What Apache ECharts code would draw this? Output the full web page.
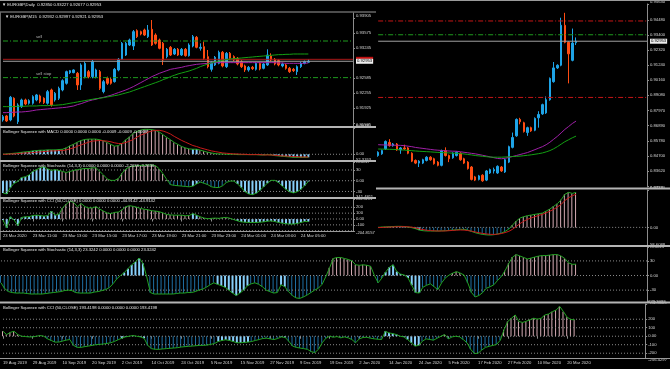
<!DOCTYPE html>
<html><head><meta charset="utf-8">
<script src="https://cdn.jsdelivr.net/npm/echarts@6/dist/echarts.min.js"></script>
<style>html,body{margin:0;padding:0;background:#000;}#c{width:670px;height:369px;}</style>
</head><body><div id="c"></div>
<script>
// ---------------- DATA ----------------
const dailyTickLabels = ['19 Aug 2019','29 Aug 2019','10 Sep 2019','20 Sep 2019','2 Oct 2019','14 Oct 2019','24 Oct 2019','5 Nov 2019','15 Nov 2019','27 Nov 2019','9 Dec 2019','19 Dec 2019','2 Jan 2020','14 Jan 2020','24 Jan 2020','5 Feb 2020','17 Feb 2020','27 Feb 2020','10 Mar 2020','20 Mar 2020'];
const m15TickLabels = ['23 Mar 2020','23 Mar 11:00','23 Mar 13:00','23 Mar 15:00','23 Mar 17:00','23 Mar 19:00','23 Mar 21:00','23 Mar 23:00','24 Mar 01:00','24 Mar 03:00','24 Mar 05:00'];

const dailyPriceLabels = ['0.95630','0.94480','0.93400','0.92320','0.91240','0.90160','0.89080','0.87970','0.86890','0.85780','0.84700','0.83620','0.82540'];
const m15PriceLabels = ['0.93905','0.93575','0.93245','0.92585','0.92255','0.91925','0.91595'];
const dMacdLabels = ['0.0473','0.00','-0.0223'];
const dStochLabels = ['58.6088','30','0.00','-30','-52.3605'];
const dCciLabels = ['379.3492','200','100','0.00','-100','-200','-256.4297'];
const mMacdLabels = ['0.0078','0.00','-0.0017'];
const mStochLabels = ['52.3763','30','0.00','-30','-45.5211'];
const mCciLabels = ['341.4811','200','100','0.00','-100','-204.8157'];

const dailyStart = 101;
const dailyOHLC = [
[0.84733,0.84967,0.84645,0.85038],[0.84854,0.85088,0.84783,0.85159],[0.85208,0.85746,0.85137,0.85817],[0.85675,0.85442,0.85371,0.85911],
[0.85442,0.85561,0.85371,0.85632],[0.85561,0.85137,0.85066,0.85632],[0.85137,0.85279,0.84854,0.85350],[0.85279,0.85208,0.85137,0.85512],
[0.85279,0.84896,0.84825,0.85350],[0.84896,0.84329,0.84259,0.84967],[0.84379,0.84188,0.84117,0.84450],[0.84188,0.84329,0.83905,0.84400],
[0.84188,0.84429,0.84117,0.84500],[0.84379,0.84613,0.84308,0.84684],[0.84613,0.84429,0.84358,0.84684],[0.84500,0.84145,0.84075,0.84571],
[0.84259,0.84025,0.83955,0.84330],[0.84025,0.85088,0.83955,0.85159],[0.85088,0.84733,0.84662,0.85321],[0.84733,0.84500,0.84259,0.84804],
[0.84571,0.84896,0.84500,0.84967],[0.84733,0.84967,0.84662,0.85038],[0.84896,0.84429,0.84358,0.84967],[0.84500,0.84188,0.84117,0.84571],
[0.84259,0.83792,0.83721,0.84330],[0.83905,0.83013,0.82943,0.83976],[0.83197,0.82964,0.82893,0.83268],[0.83013,0.83268,0.82943,0.83339],
[0.83317,0.82914,0.82843,0.83388],[0.82964,0.83622,0.82893,0.83693],[0.83480,0.83721,0.83409,0.83792],[0.83622,0.83721,0.83438,0.83863],
[0.83480,0.83955,0.83409,0.84025],[0.83905,0.83622,0.83551,0.83976],[0.83551,0.84429,0.83480,0.84500],[0.84259,0.85371,0.84188,0.85442],
[0.85321,0.86029,0.85250,0.86382],[0.86149,0.87331,0.86078,0.87402],[0.87331,0.87161,0.86977,0.87444],[0.87090,0.86453,0.86382,0.87161],
[0.86382,0.86736,0.86149,0.86807],[0.86736,0.86503,0.86432,0.86807],[0.86552,0.87402,0.86481,0.87473],[0.87444,0.87685,0.86736,0.87919],
[0.87727,0.88393,0.87656,0.88464],[0.87798,0.88747,0.87727,0.88980],[0.88747,0.90276,0.88676,0.90347],[0.90042,0.91033,0.89971,0.91458],
[0.91033,0.91224,0.90962,0.91295],[0.91224,0.94098,0.91153,0.94643],[0.94098,0.92873,0.92802,0.94996],[0.92873,0.92045,0.89922,0.92944],
[0.91578,0.92824,0.91507,0.93864],[0.92850,0.92953,0.92677,0.93227]
];
const dailyMaPurple = [0.85512,0.85498,0.85491,0.85484,0.85477,0.85470,0.85463,0.85442,0.85406,0.85371,
0.85314,0.85279,0.85244,0.85208,0.85173,0.85137,0.85116,0.85095,0.85074,0.85059,
0.85045,0.85038,0.85003,0.84967,0.84932,0.84889,0.84854,0.84804,0.84748,0.84691,
0.84634,0.84578,0.84521,0.84500,0.84536,0.84592,0.84663,0.84733,0.84804,0.84875,
0.84946,0.85052,0.85158,0.85265,0.85371,0.85512,0.85689,0.85901,0.86114,0.86361,
0.86609,0.86817,0.87034,0.87211];
const dailyMaGreen = [0.85201,0.85194,0.85187,0.85180,0.85173,0.85158,0.85144,0.85123,0.85102,0.85080,
0.85059,0.85038,0.85024,0.85010,0.84996,0.84974,0.84960,0.84946,0.84932,0.84918,
0.84903,0.84896,0.84875,0.84847,0.84811,0.84776,0.84733,0.84705,0.84677,0.84649,
0.84620,0.84613,0.84613,0.84613,0.84627,0.84641,0.84656,0.84670,0.84691,0.84719,
0.84748,0.84783,0.84825,0.84868,0.84918,0.84996,0.85088,0.85215,0.85371,0.85548,
0.85725,0.85866,0.86008,0.86128];
const dailyLevels = {redHigh:0.94409, green:0.93418, bid:0.92953, redLow:0.88910};

const dailyMacd = [0,0.0004,0.0006,0.0008,0.0011,0.0013,0.0013,0.0011,0.0004,-0.0004,
-0.0017,-0.0034,-0.0042,-0.0046,-0.0046,-0.0046,-0.0046,-0.0044,-0.0042,-0.0038,
-0.0034,-0.0030,-0.0025,-0.0025,-0.0034,-0.0051,-0.0068,-0.0080,-0.0089,-0.0095,
-0.0097,-0.0093,-0.0084,-0.0072,-0.0051,-0.0021,0.0030,0.0080,0.0118,0.0135,
0.0148,0.0156,0.0165,0.0173,0.0181,0.0207,0.0232,0.0266,0.0300,0.0350,
0.0418,0.0443,0.0430,0.0443];
const dailyMacdSignal = [-0.0003,-0.0001,0.0002,0.0004,0.0006,0.0008,0.0009,0.0009,0.0007,0.0003,
-0.0006,-0.0018,-0.0028,-0.0036,-0.0041,-0.0044,-0.0046,-0.0046,-0.0045,-0.0042,
-0.0038,-0.0035,-0.0033,-0.0034,-0.0040,-0.0048,-0.0058,-0.0068,-0.0076,-0.0083,
-0.0088,-0.0089,-0.0086,-0.0078,-0.0066,-0.0050,-0.0024,0.0012,0.0048,0.0078,
0.0102,0.0120,0.0135,0.0152,0.0165,0.0185,0.0205,0.0228,0.0258,0.0290,
0.0340,0.0375,0.0400,0.0420];
const dailyStoch = [-15,-27,-33,-35,-36,-36,-36,-37,-38,-38,
-38,-38,-37,-36,-35,-34,-33,-31,-30,-31,
-35,-36,-36,-36,-36,-34,-33,-31,-29,-25,
-17,-7,0,6,14,22,28,36,25,-2,
-35,-38,-38,-38,-38,-38,-38,-37,-36,-36,
-35,-35,-33,-30,-28,-24,-19,-15,-18,-21,
-24,-30,-36,-41,-36,-30,-21,-17,-15,-18,
-23,-30,-33,-36,-35,-19,-23,-33,-41,-46,
-47,-44,-40,-35,-30,-26,-18,-2,16,35,
37,37,35,33,30,22,21,22,21,19,
0,-15,-5,7,17,22,8,3,1,-5,
-20,-35,-36,-24,-20,-17,-23,-29,-15,-5,
1,5,8,5,1,-15,-35,-44,-41,-35,
-26,-23,-19,-10,-2,10,25,38,43,40,
37,34,36,38,40,41,41,42,43,43,
40,35,26,23,23.3242];
const dailyCci = [58,19,46,58,19,0,-4,-8,-8,0,
8,0,-31,-50,-69,-69,-58,-46,-39,-108,
-131,-131,-123,-116,-108,-100,-96,-92,-85,-77,
-62,-42,-23,-8,0,8,0,-8,-23,-108,
-146,-154,-154,-150,-146,-142,-139,-135,-127,-123,
-119,-116,-112,-108,-108,-104,-96,-85,-62,-50,
-42,-50,-62,-77,-77,-73,-69,-62,-50,-39,
-27,-23,-31,-39,-27,-8,-15,-58,-116,-131,
-139,-146,-154,-181,-193,-154,-77,-23,0,-12,
-4,-19,-8,-19,-39,-77,-31,-15,-12,-23,
-31,-35,-39,58,39,31,19,0,-8,-39,
-77,-116,-108,-58,-31,-39,-46,-23,0,19,
-31,-8,0,-8,-39,-77,-154,-204,-200,-162,
-131,-119,-108,-96,-46,77,173,212,250,173,
162,177,193,212,200,212,250,262,289,308,
350,289,223,196,193.4198];
const dailySqueeze = [[32,38],[58,66],[75,76],[103,112]];

const m15OHLC = [
[0.91662,0.91735,0.91625,0.91772],[0.91750,0.91640,0.91618,0.91772],[0.91662,0.92161,0.91633,0.92190],[0.92139,0.91750,0.91721,0.92161],
[0.91625,0.91992,0.91574,0.92029],[0.91955,0.92102,0.91926,0.92131],[0.92102,0.92014,0.91985,0.92131],[0.92029,0.92087,0.91999,0.92117],
[0.92029,0.92175,0.91999,0.92205],[0.92102,0.92212,0.92073,0.92234],[0.92190,0.92065,0.92029,0.92219],[0.92139,0.92043,0.92014,0.92161],
[0.92029,0.92285,0.91999,0.92322],[0.92322,0.91992,0.91955,0.92351],[0.92102,0.92248,0.92065,0.92278],[0.92139,0.92358,0.92102,0.92395],
[0.92322,0.92527,0.92292,0.92556],[0.92468,0.92725,0.92439,0.92747],[0.92703,0.92747,0.92674,0.92762],[0.92703,0.92762,0.92688,0.92776],
[0.92688,0.92432,0.92322,0.92718],[0.92432,0.92872,0.92322,0.92908],[0.92615,0.92908,0.92578,0.92945],[0.92725,0.92615,0.92578,0.92762],
[0.92615,0.92945,0.92578,0.92981],[0.92615,0.92762,0.92578,0.92791],[0.92725,0.92358,0.92322,0.92762],[0.92285,0.92505,0.92248,0.92542],
[0.92578,0.92468,0.92432,0.92615],[0.92556,0.92468,0.92439,0.92586],[0.92505,0.92776,0.92483,0.92806],[0.92762,0.92996,0.92732,0.93025],
[0.92996,0.93348,0.92981,0.93377],[0.93091,0.93348,0.93069,0.93377],[0.93311,0.93421,0.93289,0.93451],[0.93289,0.93605,0.93201,0.93641],
[0.93627,0.93495,0.93465,0.93656],[0.93605,0.93553,0.93524,0.93627],[0.93641,0.93531,0.93509,0.93671],[0.93495,0.93641,0.93465,0.93751],
[0.93656,0.93311,0.93289,0.93861],[0.93531,0.93348,0.93319,0.93568],[0.93421,0.93238,0.93216,0.93451],[0.93348,0.92981,0.92872,0.93377],
[0.93055,0.93216,0.93018,0.93245],[0.93260,0.93091,0.93069,0.93289],[0.93113,0.93216,0.93091,0.93245],[0.93216,0.93091,0.93069,0.93245],
[0.93091,0.93216,0.93069,0.93245],[0.93216,0.93077,0.93055,0.93245],[0.93077,0.93311,0.93055,0.93348],[0.93289,0.93495,0.93260,0.93531],
[0.93480,0.93260,0.93238,0.93509],[0.93238,0.93260,0.93187,0.93348],[0.93275,0.93018,0.92981,0.93385],[0.93055,0.92835,0.92798,0.93201],
[0.92776,0.92923,0.92725,0.92952],[0.92872,0.93040,0.92850,0.93069],[0.92908,0.93150,0.92886,0.93187],[0.93150,0.92850,0.92820,0.93179],
[0.92835,0.93128,0.92806,0.93157],[0.93128,0.93018,0.92981,0.93157],[0.93055,0.92981,0.92952,0.93084],[0.93018,0.92894,0.92864,0.93047],
[0.92945,0.92835,0.92806,0.92974],[0.92850,0.92762,0.92718,0.92879],[0.92762,0.92820,0.92725,0.92850],[0.92820,0.92791,0.92762,0.92850],
[0.92776,0.92908,0.92747,0.92938],[0.92908,0.92784,0.92754,0.92938],[0.92798,0.92894,0.92776,0.92923],[0.92872,0.93091,0.92850,0.93216],
[0.93069,0.92981,0.92952,0.93128],[0.92996,0.92894,0.92864,0.93025],[0.92967,0.92872,0.92842,0.92996],[0.92850,0.92894,0.92820,0.92923],
[0.92872,0.92798,0.92769,0.92901],[0.92798,0.92725,0.92696,0.92828],[0.92776,0.92747,0.92718,0.92806],[0.92725,0.92835,0.92652,0.92864],
[0.92835,0.92908,0.92806,0.92938],[0.92908,0.92945,0.92886,0.92967],[0.92932,0.92953,0.92921,0.92997]
];
const m15MaPurple = [0.91823,0.91823,0.91831,0.91831,0.91838,0.91838,0.91845,0.91853,0.91867,0.91882,
0.91889,0.91897,0.91904,0.91911,0.91919,0.91926,0.91933,0.91941,0.91955,0.91970,
0.91999,0.92021,0.92051,0.92080,0.92102,0.92117,0.92146,0.92160,0.92183,0.92205,
0.92234,0.92263,0.92292,0.92322,0.92358,0.92395,0.92439,0.92483,0.92527,0.92571,
0.92615,0.92652,0.92688,0.92718,0.92747,0.92776,0.92791,0.92806,0.92820,0.92842,
0.92857,0.92872,0.92886,0.92894,0.92901,0.92908,0.92916,0.92923,0.92923,0.92923,
0.92923,0.92923,0.92923,0.92923,0.92923,0.92923,0.92923,0.92923,0.92923,0.92923,
0.92923,0.92923,0.92923,0.92923,0.92916,0.92916,0.92908,0.92908,0.92908,0.92908,
0.92908,0.92908,0.92916];
const m15MaGreen = [0.91955,0.91955,0.91955,0.91955,0.91963,0.91963,0.91963,0.91970,0.91970,0.91970,
0.91977,0.91977,0.91977,0.91985,0.91985,0.91992,0.91999,0.92014,0.92029,0.92043,
0.92058,0.92073,0.92087,0.92102,0.92117,0.92131,0.92139,0.92153,0.92168,0.92183,
0.92197,0.92212,0.92234,0.92256,0.92278,0.92307,0.92336,0.92366,0.92395,0.92424,
0.92454,0.92483,0.92512,0.92549,0.92578,0.92615,0.92644,0.92674,0.92696,0.92718,
0.92740,0.92769,0.92798,0.92835,0.92864,0.92894,0.92916,0.92938,0.92960,0.92974,
0.92989,0.93004,0.93011,0.93018,0.93025,0.93033,0.93040,0.93047,0.93055,0.93062,
0.93069,0.93077,0.93084,0.93091,0.93099,0.93099,0.93106,0.93106,0.93113,0.93113,
0.93113,0.93113,0.93113];
const m15Levels = {sell:0.93399, red:0.92996, bid:0.92953, sellStop:0.92593};
const m15Macd = [0,0.0001,0.0002,0.0003,0.0004,0.0006,0.0007,0.0008,0.0010,0.0011,
0.0012,0.0012,0.0013,0.0013,0.0013,0.0014,0.0015,0.0019,0.0025,0.0030,
0.0036,0.0041,0.0044,0.0045,0.0045,0.0045,0.0043,0.0040,0.0035,0.0029,
0.0024,0.0026,0.0033,0.0043,0.0052,0.0062,0.0068,0.0072,0.0074,0.0074,
0.0073,0.0071,0.0066,0.0058,0.0050,0.0043,0.0035,0.0029,0.0023,0.0019,
0.0016,0.0015,0.0015,0.0012,0.0009,0.0006,0.0004,0.0002,0.0001,0.0001,
0,0,0,-0.0001,-0.0001,-0.0001,-0.0001,-0.0001,-0.0001,-0.0002,
-0.0002,-0.0001,-0.0002,-0.0004,-0.0005,-0.0006,-0.0007,-0.0008,-0.0009,-0.0009,
-0.0009,-0.0009,-0.0009];
const m15MacdSignal = [0,0,0.0001,0.0001,0.0002,0.0003,0.0004,0.0004,0.0005,0.0006,
0.0007,0.0008,0.0009,0.0010,0.0010,0.0011,0.0011,0.0013,0.0016,0.0019,
0.0024,0.0028,0.0032,0.0036,0.0039,0.0040,0.0041,0.0040,0.0039,0.0037,
0.0034,0.0032,0.0032,0.0035,0.0039,0.0044,0.0051,0.0057,0.0061,0.0066,
0.0069,0.0071,0.0071,0.0069,0.0065,0.0060,0.0053,0.0047,0.0041,0.0036,
0.0031,0.0026,0.0023,0.0019,0.0016,0.0013,0.0010,0.0008,0.0006,0.0004,
0.0003,0.0002,0.0001,0.0001,0,0,-0.0001,-0.0001,-0.0001,-0.0001,
-0.0002,-0.0002,-0.0002,-0.0003,-0.0004,-0.0005,-0.0005,-0.0006,-0.0007,-0.0007,
-0.0008,-0.0008,-0.0008];
const m15Stoch = [-34,-37,-19,-7,-2,9,11,16,26,31,
36,39,33,29,31,29,26,23,26,29,
31,33,34,34,36,36,26,16,5,1,
1,6,21,33,39,41,42,43,43,44,
44,42,33,19,3,-11,-13,-14,-15,-16,
-17,-15,-9,-4,-7,-11,-17,-19,-19,-14,
-5,-1,-1,-9,-19,-31,-37,-39,-35,-27,
-17,-7,1,1,-5,-15,-24,-31,-34,-31,
-24,-14,-2.2636];
const m15Cci = [-16,-151,38,-16,-113,27,38,38,59,65,
59,49,59,135,65,81,189,254,308,281,
211,265,211,189,189,211,167,135,103,92,
113,119,157,211,227,216,200,178,167,157,
140,135,124,103,76,70,65,65,65,54,
59,92,65,38,16,5,11,16,11,22,
27,11,-11,-32,-49,-54,-59,-59,-59,-54,
-49,-38,-32,-43,-59,-70,-81,-86,-86,-76,
-59,-43,-44.9142];
const m15Squeeze = [[0,15],[51,52],[62,82]];

// ---------------- STYLE / LAYOUT ----------------
const FONT = 'Liberation Sans, Arial, sans-serif';
const FS = 4.2;
const TXT = '#d6d6d6';
const AXC = '#8c8c8c';
const C_BULL = '#1ea3e6', C_BEAR = '#ff4c12';
const C_PURPLE = '#a020a8', C_MAGR = '#13a013';
const C_IND = '#22a322', C_SIG = '#c81a1a';
const C_SQ = '#87cefa', C_POS = '#d4aab3', C_NEG = '#1f6fa3';
const C_LVL_RED = '#c41616', C_LVL_GREEN = '#1e9a1e', C_BID = '#a0a0a0';
const DASHDOT = [5,2,1,2];

const DN = 174, MN = 95;
const dailyCats = Array.from({length: DN}, (_, i) => String(i));
const m15Cats = Array.from({length: MN}, (_, i) => String(i));

const gridsPos = [
  {left:1, top:1, width:646, height:186},
  {left:1, top:190, width:646, height:55},
  {left:1, top:247, width:646, height:54},
  {left:1, top:304, width:646, height:54},
  {left:3, top:13, width:350, height:113},
  {left:3, top:128, width:350, height:32},
  {left:3, top:162, width:350, height:35},
  {left:3, top:199, width:350, height:32}
];

function padStart(arr, start) { const out = []; for (let i = 0; i < start; i++) out.push('-'); return out.concat(arr); }
function inRanges(i, ranges) { return ranges.some(r => i >= r[0] && i <= r[1]); }

function xAx(grid, cats, labels, show) {
  const every = 8;
  const intervalFn = (idx) => idx % every === 0 && idx / every < labels.length;
  return {
    type:'category', gridIndex:grid, data:cats, boundaryGap:false,
    axisLine:{show:false},
    axisTick:{show:show, interval:intervalFn, length:2.5, lineStyle:{color:AXC}},
    axisLabel:{show:show, interval:intervalFn, formatter:(v, idx) => labels[idx / every] || '',
      align:'left', color:TXT, fontSize:FS, fontFamily:FONT, margin:3},
    splitLine:{show:false}
  };
}
function yAx(grid, labels, min, max) {
  const vals = labels.map(Number);
  return {
    type:'value', gridIndex:grid, position:'right',
    min: (min !== undefined ? min : Math.min(...vals)),
    max: (max !== undefined ? max : Math.max(...vals)),
    splitLine:{show:false},
    axisLine:{show:true, lineStyle:{color:AXC, width:1}},
    axisTick:{show:true, customValues: vals, length:2, lineStyle:{color:AXC}},
    axisLabel:{show:true, customValues: vals, color:TXT, fontSize:FS, fontFamily:FONT, margin:3,
      verticalAlignMaxLabel:'top', verticalAlignMinLabel:'bottom',
      formatter:(v) => { const k = vals.findIndex(x => Math.abs(x - v) < 1e-9); return k >= 0 ? labels[k] : ''; }}
  };
}

// horizontal level drawn as a two-point line series
function hLine(xi, yi, x0, x1, val, color, type, endText, endBg, endColor) {
  const s = {type:'line', xAxisIndex:xi, yAxisIndex:yi, data:[[x0, val], [x1, val]], symbol:'none', silent:true,
    animation:false, z:3, lineStyle:{color:color, type:type, width:1}};
  if (endText) {
    s.endLabel = {show:true, formatter:endText, color:endColor || '#000', backgroundColor:endBg,
      fontSize:FS, fontFamily:FONT, padding:[0.5,1], distance:3};
  }
  return s;
}

function histSeries(xi, yi, values, start, ranges) {
  const thick = [], thin = [];
  for (let i = 0; i < start; i++) { thick.push('-'); thin.push('-'); }
  values.forEach((v, k) => {
    const i = k + start;
    if (inRanges(i, ranges)) { thick.push(v); thin.push('-'); }
    else { thick.push('-'); thin.push(v); }
  });
  return [
    {type:'bar', xAxisIndex:xi, yAxisIndex:yi, data:thin, barWidth:1, barGap:'-100%', animation:false, silent:true,
      itemStyle:{color:(p) => (p.value >= 0 ? C_POS : C_NEG)}},
    {type:'bar', xAxisIndex:xi, yAxisIndex:yi, data:thick, barWidth:2, barGap:'-100%', animation:false, silent:true,
      itemStyle:{color:C_SQ}}
  ];
}
function lineSeries(xi, yi, data, color) {
  return {type:'line', xAxisIndex:xi, yAxisIndex:yi, data:data, symbol:'none', silent:true,
    animation:false, lineStyle:{color:color, width:1}, z:4};
}
function levels(xi, yi, x0, x1, vals) {
  return vals.map(v => hLine(xi, yi, x0, x1, v, '#8a8a8a', [1,2]));
}

// ---------------- OPTION ----------------
const series = [];

// Daily price
series.push({
  type:'candlestick', xAxisIndex:0, yAxisIndex:0, data: padStart(dailyOHLC, dailyStart), barWidth:2, animation:false, silent:true,
  itemStyle:{color:C_BULL, color0:C_BEAR, borderColor:C_BULL, borderColor0:C_BEAR, borderWidth:1}
});
series.push(hLine(0, 0, dailyStart, DN-1, dailyLevels.redHigh, C_LVL_RED, DASHDOT));
series.push(hLine(0, 0, dailyStart, DN-1, dailyLevels.green, C_LVL_GREEN, DASHDOT));
series.push(hLine(0, 0, dailyStart, DN-1, dailyLevels.redLow, C_LVL_RED, DASHDOT));
series.push(hLine(0, 0, dailyStart, DN-1, dailyLevels.bid, C_BID, 'solid', '0.92953', '#eeeeee'));
series.push(lineSeries(0, 0, padStart(dailyMaPurple, dailyStart), C_PURPLE));
series.push(lineSeries(0, 0, padStart(dailyMaGreen, dailyStart), C_MAGR));

// Daily MACD
series.push(...histSeries(1, 1, dailyMacd, dailyStart, dailySqueeze));
series.push(...levels(1, 1, dailyStart, DN-1, [0]));
series.push(lineSeries(1, 1, padStart(dailyMacd, dailyStart), C_IND));
series.push(lineSeries(1, 1, padStart(dailyMacdSignal, dailyStart), C_SIG));

// Daily Stochastic
series.push(...histSeries(2, 2, dailyStoch, 0, dailySqueeze));
series.push(...levels(2, 2, 0, DN-1, [30, 0, -30]));
series.push(lineSeries(2, 2, dailyStoch, C_IND));

// Daily CCI
series.push(...histSeries(3, 3, dailyCci, 0, dailySqueeze));
series.push(...levels(3, 3, 0, DN-1, [200, 100, 0, -100, -200]));
series.push(lineSeries(3, 3, dailyCci, C_IND));

// M15 price
series.push({
  type:'candlestick', xAxisIndex:4, yAxisIndex:4, data: m15OHLC, barWidth:2, animation:false, silent:true,
  itemStyle:{color:C_BULL, color0:C_BEAR, borderColor:C_BULL, borderColor0:C_BEAR, borderWidth:1},
  markPoint:{symbol:'rect', symbolSize:1, silent:true, animation:false, itemStyle:{color:'rgba(0,0,0,0)'},
    label:{show:true, position:[0,-5.5], color:'#b4b4b4', fontSize:FS, fontFamily:FONT},
    data:[{coord:[9, m15Levels.sell], label:{formatter:'sell'}}, {coord:[9, m15Levels.sellStop], label:{formatter:'sell stop'}}]}
});
series.push(hLine(4, 4, 0, MN-1, m15Levels.sell, C_LVL_GREEN, DASHDOT));
series.push(hLine(4, 4, 0, MN-1, m15Levels.sellStop, C_LVL_GREEN, DASHDOT));
series.push(hLine(4, 4, 0, MN-1, m15Levels.red, '#a81818', 'solid', '0.92996', '#c01010', '#c01010'));
series.push(hLine(4, 4, 0, MN-1, m15Levels.bid, C_BID, 'solid', '0.92953', '#eeeeee'));
series.push(lineSeries(4, 4, m15MaPurple, C_PURPLE));
series.push(lineSeries(4, 4, m15MaGreen, C_MAGR));

// M15 MACD
series.push(...histSeries(5, 5, m15Macd, 0, m15Squeeze));
series.push(...levels(5, 5, 0, MN-1, [0]));
series.push(lineSeries(5, 5, m15Macd, C_IND));
series.push(lineSeries(5, 5, m15MacdSignal, C_SIG));
// M15 Stochastic
series.push(...histSeries(6, 6, m15Stoch, 0, m15Squeeze));
series.push(...levels(6, 6, 0, MN-1, [30, 0, -30]));
series.push(lineSeries(6, 6, m15Stoch, C_IND));
// M15 CCI
series.push(...histSeries(7, 7, m15Cci, 0, m15Squeeze));
series.push(...levels(7, 7, 0, MN-1, [200, 100, 0, -100, -200]));
series.push(lineSeries(7, 7, m15Cci, C_IND));

const xAxes = [
  xAx(0, dailyCats, dailyTickLabels, false), xAx(1, dailyCats, dailyTickLabels, false),
  xAx(2, dailyCats, dailyTickLabels, false), xAx(3, dailyCats, dailyTickLabels, true),
  xAx(4, m15Cats, m15TickLabels, false), xAx(5, m15Cats, m15TickLabels, false),
  xAx(6, m15Cats, m15TickLabels, false), xAx(7, m15Cats, m15TickLabels, true)
];
const yAxes = [
  yAx(0, dailyPriceLabels, 0.82469, Number(dailyPriceLabels[0])),
  yAx(1, dMacdLabels), yAx(2, dStochLabels), yAx(3, dCciLabels),
  yAx(4, m15PriceLabels, 0.91529, 0.94015),
  yAx(5, mMacdLabels), yAx(6, mStochLabels), yAx(7, mCciLabels)
];

function gLine(x1, y1, x2, y2, color, w) {
  return {type:'line', silent:true, z:50, shape:{x1, y1, x2, y2}, style:{stroke:color, lineWidth:w || 1}};
}
function gText(x, y, text, color) {
  return {type:'text', silent:true, z:50, x:x, y:y, style:{text:text, fill:color || '#e6e6e6', fontSize:FS, fontFamily:FONT}};
}
const SEP = '#b4b4b4';
const graphics = [
  gLine(0, 0.5, 670, 0.5, '#9a9a9a', 1),
  gLine(376, 188.5, 670, 188.5, SEP, 2),
  gLine(0, 246, 670, 246, SEP, 2),
  gLine(0, 302.5, 670, 302.5, SEP, 2),
  gLine(0, 358.5, 670, 358.5, '#9a9a9a', 1),
  gLine(0, 12, 376, 12, '#9a9a9a', 1),
  gLine(0.5, 12, 0.5, 240, '#6a6a6a', 1),
  gLine(0, 127, 376, 127, SEP, 2),
  gLine(0, 161, 376, 161, SEP, 2),
  gLine(0, 198, 376, 198, SEP, 2),
  gLine(0, 231.5, 354, 231.5, '#9a9a9a', 1),
  gText(2, 2.5, '\u25BC EURGBP,Daily  0.92850 0.93227 0.92677 0.92953'),
  gText(5, 14.5, '\u25BC EURGBP,M15  0.92932 0.92997 0.92921 0.92953'),
  gText(3, 129.5, 'Bollinger Squeeze with MACD 0.0000 0.0000 0.0000 -0.0009 -0.0009 -0.0008'),
  gText(3, 164, 'Bollinger Squeeze with Stochastic (14,3,3) 0.0000 0.0000 0.0000 -2.2636 -2.2636'),
  gText(3, 199, 'Bollinger Squeeze with CCI (50,CLOSE) 0.0000 0.0000 0.0000 -44.9142 -44.9142'),
  gText(3, 248, 'Bollinger Squeeze with Stochastic (14,3,3) 23.3242 0.0000 0.0000 0.0000 23.3242'),
  gText(3, 305.5, 'Bollinger Squeeze with CCI (50,CLOSE) 193.4198 0.0000 0.0000 0.0000 193.4198')
];

const chart = echarts.init(document.getElementById('c'), null, {renderer:'canvas'});
chart.setOption({
  backgroundColor:'#000',
  animation:false,
  grid: gridsPos.map(g => Object.assign({show:false, containLabel:false}, g)),
  xAxis: xAxes,
  yAxis: yAxes,
  series: series,
  graphic: {elements: graphics}
});
</script></body></html>
